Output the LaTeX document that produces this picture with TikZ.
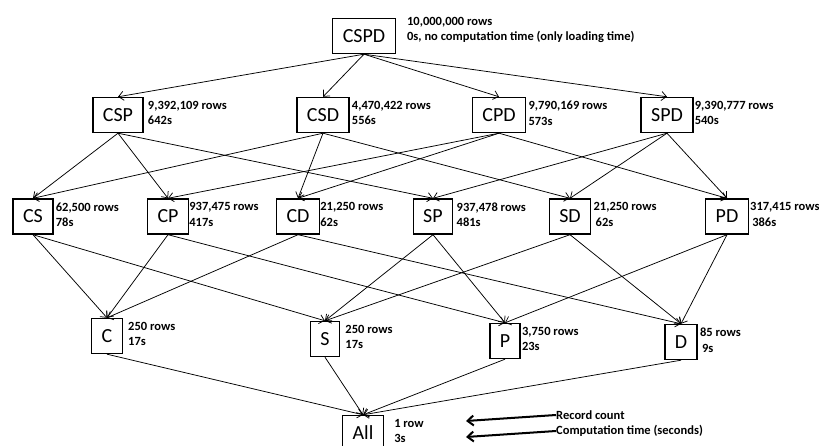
\documentclass[tikz,border=0pt]{standalone}
\usepackage{fontspec}
\setmainfont{Carlito}
\usetikzlibrary{positioning}
\usetikzlibrary{arrows.meta}

\tikzset{
  cube/.style={draw,line width=1.4pt,minimum height=35pt,inner xsep=10pt,inner ysep=0pt,font=\fontsize{20}{24}\selectfont},
  stat/.style={anchor=north west,inner sep=0pt,align=left,yshift=-4pt,font=\fontsize{12.5}{15.5}\selectfont\bfseries},
  roll/.style={-{Straight Barb[length=5pt,width=9pt]},line width=0.75pt},
  keyarrow/.style={-{Straight Barb[length=6pt,width=10pt]},line width=2pt},
}

\begin{document}
\begin{tikzpicture}[x=1pt,y=-1pt]
\useasboundingbox (0,0) rectangle (819,446);
% top cuboid
\node[cube] (cspd) at (364,36) {CSPD};
% three dimensions
\node[cube] (csp) at (118,115) {CSP};
\node[cube] (csd) at (323,115) {CSD};
\node[cube] (cpd) at (499,115) {CPD};
\node[cube] (spd) at (667,115) {SPD};
% two dimensions
\node[cube] (cs) at (33,216.5) {CS};
\node[cube] (cp) at (168,216.5) {CP};
\node[cube] (cd) at (298,216.5) {CD};
\node[cube] (sp) at (433,216.5) {SP};
\node[cube] (sd) at (570,216.5) {SD};
\node[cube] (pd) at (727,216.5) {PD};
% one dimension
\node[cube] (c) at (107,336) {C};
\node[cube] (s) at (325,339) {S};
\node[cube] (p) at (505,341) {P};
\node[cube] (d) at (681,342) {D};
% apex
\node[cube] (all) at (363,433) {All};

% record counts and times
\node[stat,xshift=11pt,yshift=5pt] (cspd-stat) at (cspd.north east) {10,000,000 rows\\0s, no computation time (only loading time)};
\node[stat,xshift=4pt] (csp-stat) at (csp.north east) {9,392,109 rows\\642s};
\node[stat,xshift=2pt] (csd-stat) at (csd.north east) {4,470,422 rows\\556s};
\node[stat,xshift=2pt] (cpd-stat) at (cpd.north east) {9,790,169 rows\\573s};
\node[stat,xshift=1pt] (spd-stat) at (spd.north east) {9,390,777 rows\\540s};
\node[stat,xshift=2pt] (cs-stat) at (cs.north east) {62,500 rows\\78s};
\node[stat,xshift=0pt] (cp-stat) at (cp.north east) {937,475 rows\\417s};
\node[stat,xshift=0pt] (cd-stat) at (cd.north east) {21,250 rows\\62s};
\node[stat,xshift=3pt] (sp-stat) at (sp.north east) {937,478 rows\\481s};
\node[stat,xshift=2pt] (sd-stat) at (sd.north east) {21,250 rows\\\,62s};
\node[stat,xshift=1pt] (pd-stat) at (pd.north east) {317,415 rows\\\,386s};
\node[stat,xshift=5pt] (c-stat) at (c.north east) {250 rows\\17s};
\node[stat,xshift=5pt] (s-stat) at (s.north east) {250 rows\\17s};
\node[stat,xshift=1pt] (p-stat) at (p.north east) {3,750 rows\\23s};
\node[stat,xshift=2pt] (d-stat) at (d.north east) {85 rows\\\,9s};
\node[stat,xshift=10pt] (all-stat) at (all.north east) {1 row\\3s};

% legend
\node[stat,anchor=west,yshift=0pt] (count-key) at (556,411) {Record count};
\node[stat,anchor=west,yshift=0pt] (time-key) at (556,427) {Computation time (seconds)};
\coordinate (count-tip) at (466,421);
\coordinate (time-tip) at (466,437);
\draw[keyarrow] (count-key.west) -- (count-tip);
\draw[keyarrow] (time-key.west) -- (time-tip);

\path[roll]
  (cspd.south) edge (csp.north)
  (cspd.south) edge (csd.north)
  (cspd.south) edge (cpd.north)
  (cspd.south) edge (spd.north)
  (csp.south) edge (cs.north)
  (csp.south) edge (cp.north)
  (csp.south) edge (sp.north)
  (csd.south) edge (cs.north)
  (csd.south) edge (cd.north)
  (csd.south) edge (sd.north)
  (cpd.south) edge (cp.north)
  (cpd.south) edge (cd.north)
  (cpd.south) edge (pd.north)
  (spd.south) edge (sp.north)
  (spd.south) edge (sd.north)
  (spd.south) edge (pd.north)
  (cs.south) edge (c.north)
  (cs.south) edge (s.north)
  (cp.south) edge (c.north)
  (cp.south) edge (p.north)
  (cd.south) edge (c.north)
  (cd.south) edge (d.north)
  (sp.south) edge (s.north)
  (sp.south) edge (p.north)
  (sd.south) edge (s.north)
  (sd.south) edge (d.north)
  (pd.south) edge (p.north)
  (pd.south) edge (d.north)
  (c.south) edge (all.north)
  (s.south) edge (all.north)
  (p.south) edge (all.north)
  (d.south) edge (all.north)
  ;
\end{tikzpicture}
\end{document}
